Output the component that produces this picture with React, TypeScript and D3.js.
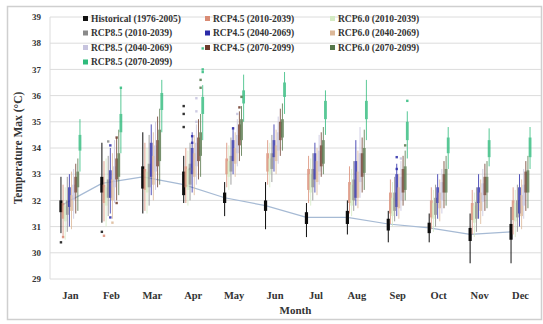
import React from "react";
import * as d3 from "d3";

const MONTHS = ["Jan", "Feb", "Mar", "Apr", "May", "Jun", "Jul", "Aug", "Sep", "Oct", "Nov", "Dec"];
const Y_TICKS = [29, 30, 31, 32, 33, 34, 35, 36, 37, 38, 39];

const SERIES_NAMES = [
  "Historical (1976-2005)", "RCP4.5 (2010-2039)", "RCP6.0 (2010-2039)",
  "RCP8.5 (2010-2039)", "RCP4.5 (2040-2069)", "RCP6.0 (2040-2069)",
  "RCP8.5 (2040-2069)", "RCP4.5 (2070-2099)", "RCP6.0 (2070-2099)",
  "RCP8.5 (2070-2099)",
];
const SERIES_COLORS = [
  "#111111", "#d98b74", "#d4ebc4", "#8a8a8a", "#2a2aa8",
  "#dcb898", "#c6c3de", "#6e3b2c", "#55774a", "#2fbb7c",
];

type Box = [number, number, number, number, number]; // min, q1, median, q3, max

const HIST: Box[] = [
  [30.75, 31.55, 31.8, 32.0, 32.9], [31.15, 32.3, 32.65, 32.9, 34.2], [31.5, 32.45, 32.9, 33.3, 34.6],
  [31.9, 32.2, 32.6, 33.1, 33.7], [31.4, 31.9, 32.1, 32.3, 32.7], [30.9, 31.6, 31.8, 32.0, 32.7],
  [30.6, 31.1, 31.35, 31.55, 31.9], [30.7, 31.1, 31.35, 31.6, 32.0], [30.4, 30.85, 31.1, 31.3, 31.6],
  [30.4, 30.75, 30.95, 31.15, 31.5], [29.6, 30.45, 30.7, 30.95, 31.5], [29.6, 30.5, 30.8, 31.1, 31.75],
];
const RCP45_2010: Box[] = [
  [30.6, 31.3, 31.6, 31.9, 32.6], [31.2, 31.9, 32.3, 32.6, 33.5], [31.6, 32.4, 32.8, 33.2, 34.2],
  [31.9, 32.5, 32.9, 33.3, 34.0], [32.5, 33.0, 33.3, 33.6, 34.2], [32.6, 33.1, 33.4, 33.8, 34.3],
  [31.9, 32.4, 32.8, 33.2, 33.7], [31.5, 31.9, 32.3, 32.7, 33.3], [31.1, 31.5, 31.9, 32.3, 32.8],
  [30.9, 31.35, 31.7, 32.0, 32.5], [30.7, 31.25, 31.6, 31.9, 32.4], [30.7, 31.25, 31.6, 32.0, 32.5],
];
const RCP60_2010: Box[] = [
  [30.5, 31.2, 31.5, 31.8, 32.5], [31.0, 31.8, 32.2, 32.5, 33.6], [31.5, 32.3, 32.7, 33.1, 34.0],
  [31.8, 32.4, 32.8, 33.2, 33.9], [32.4, 32.9, 33.2, 33.5, 34.1], [32.5, 33.0, 33.3, 33.6, 34.2],
  [31.8, 32.3, 32.7, 33.0, 33.6], [31.4, 31.8, 32.2, 32.6, 33.2], [31.0, 31.4, 31.8, 32.1, 32.7],
  [30.8, 31.3, 31.6, 31.9, 32.4], [30.6, 31.15, 31.5, 31.8, 32.3], [30.6, 31.2, 31.5, 31.9, 32.4],
];
const RCP85_2010: Box[] = [
  [30.8, 31.45, 31.75, 32.0, 32.9], [31.4, 32.1, 32.45, 32.8, 33.7], [31.8, 32.5, 32.95, 33.4, 34.5],
  [32.0, 32.6, 33.0, 33.4, 34.2], [32.6, 33.1, 33.45, 33.7, 34.4], [32.7, 33.2, 33.5, 33.8, 34.5],
  [32.0, 32.5, 32.9, 33.2, 33.8], [31.6, 32.0, 32.4, 32.8, 33.5], [31.2, 31.6, 32.0, 32.3, 32.9],
  [31.0, 31.45, 31.8, 32.1, 32.6], [30.8, 31.3, 31.65, 31.95, 32.5], [30.8, 31.35, 31.7, 32.0, 32.6],
];
const RCP45_2040: Box[] = [
  [31.0, 31.75, 32.1, 32.5, 33.0], [31.5, 32.1, 32.6, 33.15, 34.0], [32.2, 32.9, 33.5, 34.2, 34.9],
  [32.3, 33.0, 33.5, 34.0, 34.6], [33.0, 33.5, 33.9, 34.3, 34.8], [33.1, 33.65, 34.0, 34.3, 34.9],
  [32.3, 32.8, 33.3, 33.8, 34.2], [31.8, 32.1, 32.8, 33.5, 34.3], [31.4, 31.75, 32.3, 33.0, 33.4],
  [31.3, 31.9, 32.2, 32.5, 33.0], [31.3, 31.9, 32.2, 32.5, 33.0], [31.0, 31.5, 32.0, 32.5, 33.0],
];
const RCP60_2040: Box[] = [
  [30.9, 31.6, 31.9, 32.2, 33.1], [31.3, 32.0, 32.4, 32.8, 33.8], [32.0, 32.6, 33.2, 33.7, 34.6],
  [32.2, 32.9, 33.3, 33.8, 34.5], [32.9, 33.4, 33.7, 34.0, 34.6], [33.0, 33.5, 33.8, 34.1, 34.7],
  [32.2, 32.7, 33.1, 33.5, 34.0], [31.7, 32.1, 32.6, 33.1, 33.9], [31.3, 31.7, 32.1, 32.5, 33.0],
  [31.2, 31.7, 32.0, 32.3, 32.8], [31.1, 31.6, 31.95, 32.3, 32.8], [30.9, 31.4, 31.8, 32.2, 32.8],
];
const RCP85_2040: Box[] = [
  [31.3, 32.0, 32.3, 32.6, 33.2], [31.9, 32.5, 32.9, 33.3, 34.3], [32.4, 33.1, 33.6, 34.1, 35.0],
  [32.6, 33.3, 33.8, 34.2, 34.9], [33.3, 33.8, 34.1, 34.5, 35.1], [33.4, 33.9, 34.2, 34.6, 35.2],
  [32.6, 33.1, 33.5, 33.9, 34.5], [32.1, 32.7, 33.3, 33.8, 34.8], [31.6, 32.0, 32.5, 32.9, 33.5],
  [31.5, 32.0, 32.35, 32.7, 33.2], [31.4, 31.95, 32.3, 32.65, 33.2], [31.3, 31.8, 32.2, 32.6, 33.2],
];
const RCP45_2070: Box[] = [
  [31.5, 32.3, 32.6, 32.9, 33.4], [32.0, 32.8, 33.2, 33.6, 34.4], [32.5, 33.3, 33.8, 34.3, 35.2],
  [32.8, 33.5, 34.0, 34.4, 35.1], [33.5, 34.1, 34.5, 34.9, 35.4], [33.7, 34.3, 34.7, 35.0, 35.5],
  [32.9, 33.3, 33.7, 34.1, 34.6], [32.3, 32.9, 33.4, 33.8, 34.4], [31.8, 32.3, 32.8, 33.2, 33.7],
  [31.7, 32.3, 32.65, 33.0, 33.5], [31.6, 32.2, 32.55, 32.9, 33.4], [31.6, 32.3, 32.7, 33.1, 33.5],
];
const RCP60_2070: Box[] = [
  [31.6, 32.5, 32.8, 33.1, 33.6], [32.2, 32.9, 33.4, 33.8, 34.7], [32.6, 33.5, 34.0, 34.7, 35.5],
  [32.9, 33.7, 34.2, 34.6, 35.3], [33.7, 34.3, 34.7, 35.1, 35.6], [33.9, 34.4, 34.8, 35.1, 35.7],
  [33.0, 33.4, 33.9, 34.3, 34.8], [32.4, 33.05, 33.5, 34.0, 34.7], [32.0, 32.4, 32.9, 33.3, 33.9],
  [31.8, 32.3, 32.75, 33.2, 33.7], [31.7, 32.3, 32.65, 32.9, 33.5], [31.7, 32.3, 32.75, 33.15, 33.7],
];
const RCP85_2070: Box[] = [
  [33.1, 33.9, 34.2, 34.5, 35.1], [33.8, 34.6, 34.95, 35.3, 36.3], [34.6, 35.45, 35.8, 36.1, 36.6],
  [34.3, 35.3, 35.6, 35.95, 36.4], [35.0, 35.7, 35.95, 36.2, 36.8], [35.3, 35.95, 36.25, 36.5, 36.9],
  [34.5, 35.1, 35.45, 35.8, 36.2], [34.3, 35.1, 35.45, 35.8, 36.6], [33.6, 34.3, 34.7, 35.0, 35.4],
  [33.2, 33.8, 34.1, 34.4, 34.8], [33.3, 33.65, 34.0, 34.3, 34.75], [33.2, 33.65, 34.0, 34.4, 34.8],
];

const SERIES_DATA: Box[][] = [
  HIST, RCP45_2010, RCP60_2010, RCP85_2010, RCP45_2040,
  RCP60_2040, RCP85_2040, RCP45_2070, RCP60_2070, RCP85_2070,
];

// [month, series index, value]
const OUTLIERS: [string, number, number][] = [
  ["Jan", 0, 30.4], ["Jan", 1, 30.6],
  ["Feb", 0, 30.8], ["Feb", 1, 30.65], ["Feb", 3, 34.25], ["Feb", 4, 34.1], ["Feb", 4, 31.35],
  ["Feb", 5, 31.15], ["Feb", 7, 31.9], ["Feb", 7, 34.4], ["Feb", 9, 36.3],
  ["Apr", 0, 34.8], ["Apr", 0, 35.3], ["Apr", 0, 35.6], ["Apr", 3, 33.2], ["Apr", 4, 34.2],
  ["Apr", 4, 34.45], ["Apr", 6, 35.0], ["Apr", 6, 35.4], ["Apr", 6, 35.9], ["Apr", 8, 36.3],
  ["Apr", 8, 36.6], ["Apr", 9, 36.9], ["Apr", 9, 37.0], ["Apr", 9, 37.8],
  ["May", 4, 34.75], ["May", 6, 35.3], ["May", 7, 35.55], ["May", 8, 35.95],
  ["Sep", 4, 33.2], ["Sep", 4, 33.65], ["Sep", 6, 33.6], ["Sep", 8, 34.1], ["Sep", 9, 35.8],
];

const W = 543;
const H = 324;
const PLOT = { left: 50, right: 541, top: 17, bottom: 279 };

export default function App() {
  const x = d3.scaleBand<string>().domain(MONTHS).range([PLOT.left, PLOT.right]).padding(0);
  const inner = d3
    .scalePoint<number>()
    .domain(d3.range(SERIES_NAMES.length))
    .range([-9.5, 9.5]);
  const y = d3.scaleLinear().domain([29, 39]).range([PLOT.bottom, PLOT.top]);
  const cx = (m: string, s: number) => (x(m) as number) + x.bandwidth() / 2 + (inner(s) as number);

  const histLine = d3
    .line<Box>()
    .x((_, i) => cx(MONTHS[i], 0))
    .y((d) => y(d[2]));

  const font = "'Liberation Serif', 'Times New Roman', serif";
  const legendCols = [83, 205, 330];
  const legendRows = [18.5, 33, 47.5, 62];

  return (
    <svg
      width={W}
      height={H}
      style={{ position: "absolute", left: 0, top: 0, background: "#fff" }}
      fontFamily={font}
    >
      <defs>
        <filter id="soft" x="-5%" y="-5%" width="110%" height="110%">
          <feGaussianBlur stdDeviation={0.45} />
        </filter>
      </defs>
      <rect x={7.5} y={6.5} width={534} height={313} fill="#fff" stroke="#cfcfcf" strokeWidth={1.5} />
      {Y_TICKS.map((t) => (
        <g key={t}>
          <line x1={PLOT.left} x2={PLOT.right} y1={y(t)} y2={y(t)} stroke="#dcdcdc" strokeWidth={1} />
          <text x={41} y={y(t)} dy="0.35em" textAnchor="end" fontSize={9} fontWeight="bold" fill="#333">
            {t}
          </text>
        </g>
      ))}
      <line x1={PLOT.left} x2={PLOT.left} y1={PLOT.top} y2={PLOT.bottom} stroke="#dcdcdc" />
      <g filter="url(#soft)">
        <path d={histLine(HIST) || ""} fill="none" stroke="#a6bad4" strokeWidth={1.2} />
        {SERIES_DATA.map((series, s) => (
          <g key={s}>
            {series.map((b, i) => {
              const m = MONTHS[i];
              const c = cx(m, s);
              const bw = s === 0 ? 3.2 : 2.8;
              return (
                <g key={m} opacity={s === 0 ? 1 : 0.8}>
                  <line x1={c} x2={c} y1={y(b[0])} y2={y(b[4])} stroke={SERIES_COLORS[s]} strokeWidth={1} />
                  <rect
                    x={c - bw / 2}
                    y={y(b[3])}
                    width={bw}
                    height={y(b[1]) - y(b[3])}
                    fill={SERIES_COLORS[s]}
                  />
                </g>
              );
            })}
          </g>
        ))}
        {OUTLIERS.map(([m, s, v], i) => (
          <rect key={i} x={cx(m, s) - 1.2} y={y(v) - 1.2} width={2.4} height={2.4} fill={SERIES_COLORS[s]} opacity={0.85} />
        ))}
      </g>
      {MONTHS.map((m) => (
        <text
          key={m}
          x={(x(m) as number) + x.bandwidth() / 2}
          y={299}
          textAnchor="middle"
          fontSize={10.5}
          fontWeight="bold"
          fill="#333"
        >
          {m}
        </text>
      ))}
      <text x={(PLOT.left + PLOT.right) / 2} y={314} textAnchor="middle" fontSize={11} fontWeight="bold" fill="#333">
        Month
      </text>
      <text
        transform={`translate(22,${(PLOT.top + PLOT.bottom) / 2}) rotate(-90)`}
        textAnchor="middle"
        fontSize={11.5}
        fontWeight="bold"
        fill="#333"
      >
        Temperature Max (°C)
      </text>
      {SERIES_NAMES.map((name, i) => {
        const col = i % 3;
        const row = Math.floor(i / 3);
        const lx = legendCols[col];
        const ly = legendRows[row];
        return (
          <g key={name}>
            <rect x={lx} y={ly - 2.5} width={5} height={5} fill={SERIES_COLORS[i]} />
            <text x={lx + 8} y={ly} dy="0.35em" fontSize={9.5} fontWeight="bold" fill="#333">
              {name}
            </text>
          </g>
        );
      })}
    </svg>
  );
}
